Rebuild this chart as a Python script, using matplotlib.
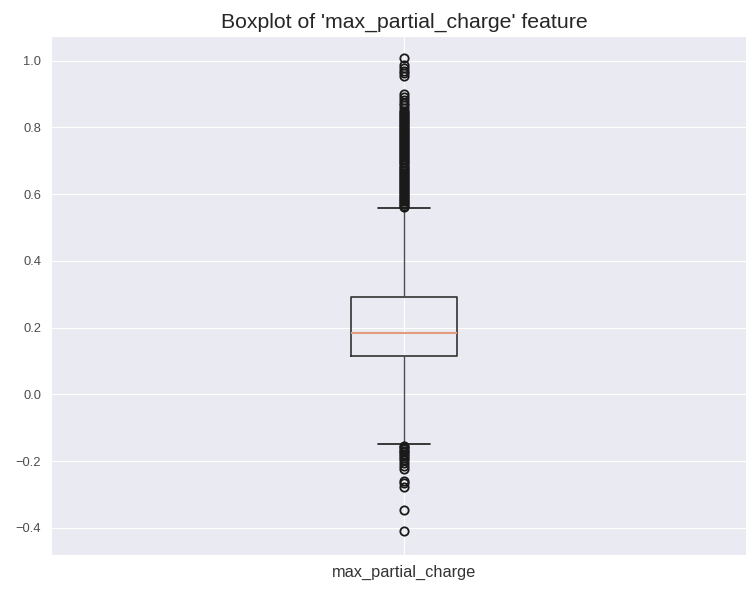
import matplotlib
matplotlib.use("Agg")
import matplotlib.pyplot as plt
import seaborn as sns

FEATURE = "max_partial_charge"

# summary statistics of the feature
q1 = 0.115
median = 0.184
q3 = 0.291
whisker_low = -0.149
whisker_high = 0.558

# values outside the whiskers
upper_outliers = [0.562, 0.566, 0.570, 0.575, 0.579, 0.584, 0.588, 0.593, 0.597,
                  0.602, 0.606, 0.611, 0.615, 0.620, 0.624, 0.629, 0.633, 0.638,
                  0.642, 0.647, 0.651, 0.656, 0.660, 0.665, 0.669, 0.674, 0.678,
                  0.683, 0.687, 0.692, 0.696, 0.701, 0.705, 0.710, 0.714, 0.719,
                  0.723, 0.728, 0.732, 0.737, 0.741, 0.746, 0.750, 0.755, 0.759,
                  0.764, 0.768, 0.773, 0.777, 0.782, 0.786, 0.791, 0.795, 0.800,
                  0.804, 0.809, 0.813, 0.818, 0.822, 0.827, 0.831, 0.836, 0.840,
                  0.845, 0.850, 0.858, 0.866, 0.874, 0.883, 0.892, 0.901,
                  0.953, 0.962, 0.970, 0.978, 0.986, 1.008]
lower_outliers = [-0.153, -0.158, -0.163, -0.168, -0.173, -0.178, -0.184, -0.190,
                  -0.197, -0.205, -0.214, -0.222, -0.258, -0.265, -0.276,
                  -0.346, -0.409]

sns.set_style("darkgrid")
plt.rcParams['font.family'] = ['Liberation Sans', 'DejaVu Sans']

fig = plt.figure(figsize=(7.46, 5.89), dpi=100)
ax = fig.add_axes([51 / 746, 34 / 589, 706 / 746, 519 / 589])

stats = [{
    'label': FEATURE,
    'q1': q1,
    'med': median,
    'q3': q3,
    'whislo': whisker_low,
    'whishi': whisker_high,
    'fliers': upper_outliers + lower_outliers,
}]

ax.bxp(stats, widths=0.149, showfliers=True,
       boxprops=dict(color='0.2', linewidth=1.2),
       whiskerprops=dict(color='0.3', linewidth=1.0),
       capprops=dict(color='0.1', linewidth=1.2),
       medianprops=dict(color='#E39B7E', linewidth=1.5),
       flierprops=dict(marker='o', markerfacecolor='none',
                       markeredgecolor='0.1', markersize=6, markeredgewidth=1.3))

ax.set_xlim(0.5, 1.5)
ax.set_ylim(-0.481, 1.074)
ax.set_yticks([-0.4, -0.2, 0.0, 0.2, 0.4, 0.6, 0.8, 1.0])
ax.tick_params(axis='y', labelsize=9.3, colors='0.3')
ax.tick_params(axis='x', labelsize=11.8, colors='0.2')
ax.set_title("Boxplot of '%s' feature" % FEATURE, fontsize=15.3, color='0.15')

fig.savefig("out.png", dpi=100)
